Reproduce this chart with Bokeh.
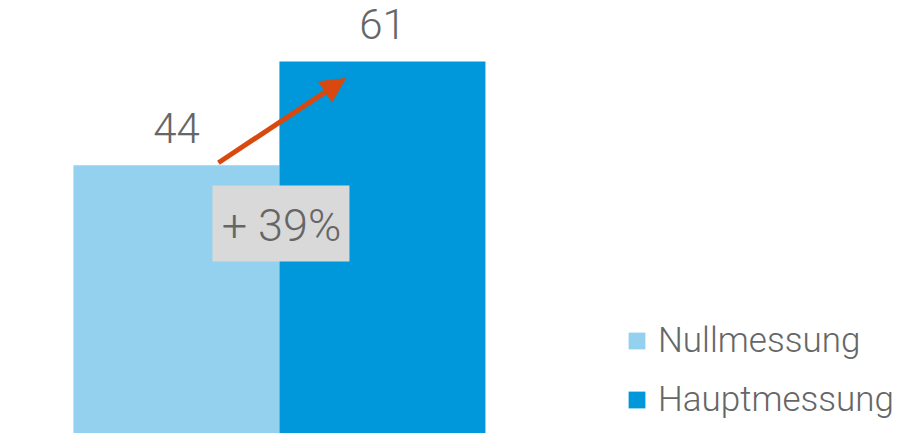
from bokeh.plotting import figure
from bokeh.models import ColumnDataSource, Range1d, Legend, LegendItem, Arrow, NormalHead, BoxAnnotation, Label
from bokeh.embed import file_html
from bokeh.resources import INLINE
from bokeh.core.properties import value

categories = ["Nullmessung", "Hauptmessung"]
values = [44, 61]
colors = ["#93D1EE", "#0098DA"]

change_pct = round((values[1] / values[0] - 1) * 100)
change_label = f"+ {change_pct}%"

FONT = "Roboto Light"
GRAY = "#666666"

xs = list(range(len(categories)))
src = ColumnDataSource(dict(x=xs, top=values, color=colors, cat=categories,
                            label=[str(v) for v in values]))

p = figure(width=920, height=433, output_backend="svg", toolbar_location=None,
           x_range=Range1d(-0.854, 3.612), y_range=Range1d(0, 71),
           min_border=0, outline_line_color=None)
p.axis.visible = False
p.grid.visible = False
p.background_fill_color = "white"
p.border_fill_color = "white"

r0 = p.vbar(x=[xs[0]], top=[values[0]], width=1.0, color=colors[0], line_color=None)
r1 = p.vbar(x=[xs[1]], top=[values[1]], width=1.0, color=colors[1], line_color=None)

p.text(x="x", y="top", text="label", source=src, text_align="center",
       text_baseline="middle", y_offset=-37, text_font=value(FONT),
       text_font_size="42px", text_color=GRAY)

# change box
box = BoxAnnotation(left=0.175, right=0.84, bottom=28.2, top=40.66,
                    fill_color="#D9D9D9", fill_alpha=1.0, line_color=None)
p.add_layout(box)
p.add_layout(Label(x=0.51, y=34.06, text=change_label, text_align="center",
                   text_baseline="middle", text_font=FONT,
                   text_font_size="45px", text_color=GRAY))

# arrow
p.add_layout(Arrow(end=NormalHead(size=24, fill_color="#D9480F", line_color="#D9480F"),
                   x_start=0.204, y_start=values[0] + 0.4, x_end=0.82, y_end=values[1] - 2.8,
                   line_color="#D9480F", line_width=5))

legend = Legend(items=[LegendItem(label=categories[0], renderers=[r0]),
                       LegendItem(label=categories[1], renderers=[r1])],
                location=(626, 13), orientation="vertical",
                glyph_width=21, glyph_height=21, label_standoff=11,
                label_text_font=FONT, label_text_font_size="35px",
                label_text_color=GRAY, spacing=18, padding=0, margin=0,
                border_line_color=None, background_fill_alpha=0)
p.add_layout(legend)

open("out.html", "w").write(file_html(p, INLINE))
